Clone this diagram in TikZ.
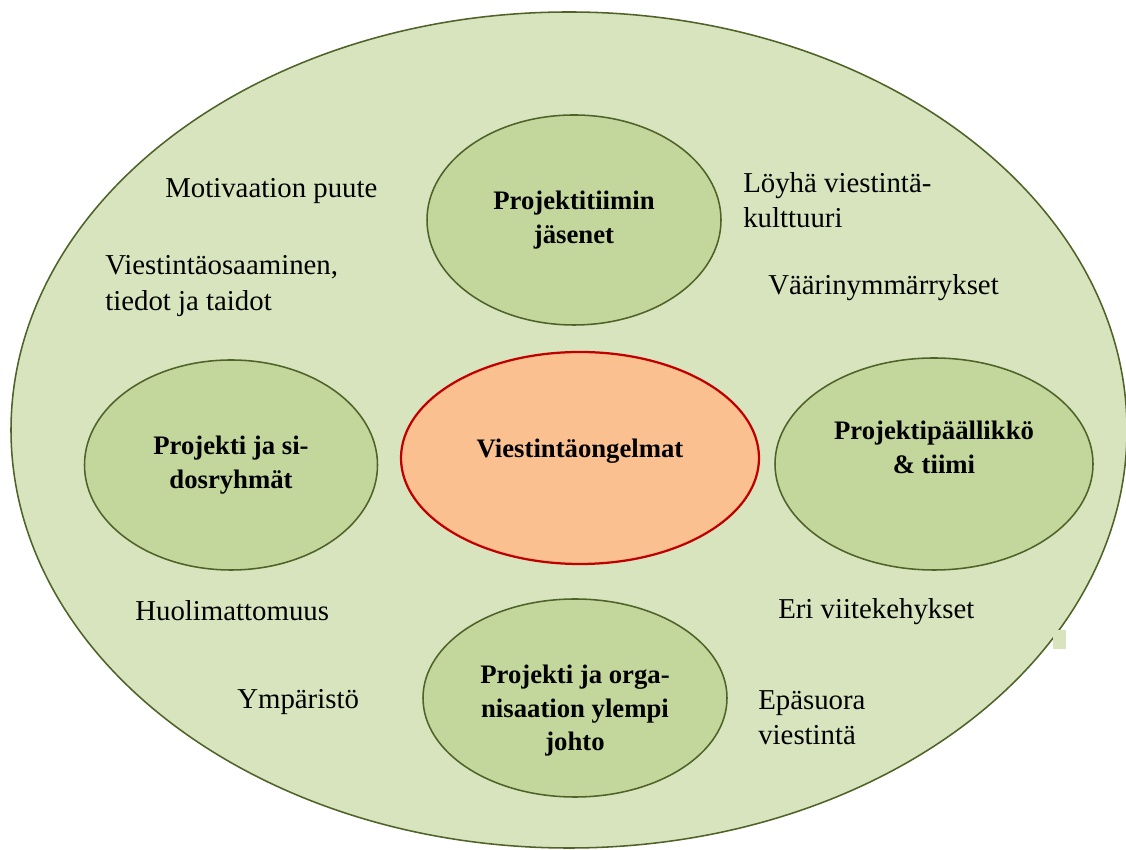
\documentclass[tikz,border=0pt]{standalone}
\usepackage{fontspec}
\setmainfont{Liberation Serif}
\usepackage{xcolor}
\usetikzlibrary{shapes.geometric}

\definecolor{bggreen}{HTML}{D7E4BD}
\definecolor{midgreen}{HTML}{C3D69B}
\definecolor{oliveline}{HTML}{4F6228}
\definecolor{peach}{HTML}{FAC090}
\definecolor{darkred}{HTML}{C00000}

\begin{document}
\begin{tikzpicture}[group/.style={ellipse, draw=oliveline, line width=1.1pt, fill=midgreen, inner sep=0pt, align=center, font=\fontsize{19}{24}\selectfont\bfseries}, cause/.style={anchor=west, inner sep=0pt, align=left, font=\fontsize{20.5}{25}\selectfont}]
\useasboundingbox (0,0) rectangle (28.15,21.25);
% outer field
\draw[draw=oliveline, line width=1.1pt, fill=bggreen] (14.225,10.5) ellipse [x radius=13.95, y radius=10.45];
\fill[bggreen] (26.325,5.025) rectangle (26.65,5.5);
% groups round the problem
\node[group, minimum width=7.35cm, minimum height=5.25cm] (tiimi) at (14.35, 15.75) {Projektitiimin\\ jäsenet};
\node[group, minimum width=7.325cm, minimum height=5.25cm] (sidos) at (5.775, 9.625) {Projekti ja si-\\ dosryhmät};
\node[group, minimum width=8.95cm, minimum height=5.3cm, fill=peach, draw=darkred, line width=1.6pt] (ongelmat) at (14.5, 9.8) {Viestintäongelmat\rule[-0.5cm]{0pt}{0pt}};
\node[group, minimum width=7.95cm, minimum height=5.3cm] (paallikko) at (23.35, 9.65) {Projektipäällikkö\\ \& tiimi\\ \mbox{}};
\node[group, minimum width=7.6cm, minimum height=4.95cm] (johto) at (14.375, 3.8) {\rule{0pt}{1.1cm}Projekti ja orga-\\ nisaation ylempi\\ johto};
% causes
\node[cause] (motiv) at (4.125, 16.475) {Motivaation puute};
\node[cause] (osaam) at (2.625, 14.1) {Viestintäosaaminen,\\ tiedot ja taidot};
\node[cause] (loyha) at (18.575, 16.25) {Löyhä viestintä-\\ kulttuuri};
\node[cause] (vaarin) at (19.2, 14.05) {Väärinymmärrykset};
\node[cause] (huoli) at (3.375, 5.975) {Huolimattomuus};
\node[cause] (ymp) at (5.925, 3.7) {Ympäristö};
\node[cause] (eri) at (19.45, 5.95) {Eri viitekehykset};
\node[cause] (epas) at (18.95, 3.3) {Epäsuora\\ viestintä};
\end{tikzpicture}
\end{document}
